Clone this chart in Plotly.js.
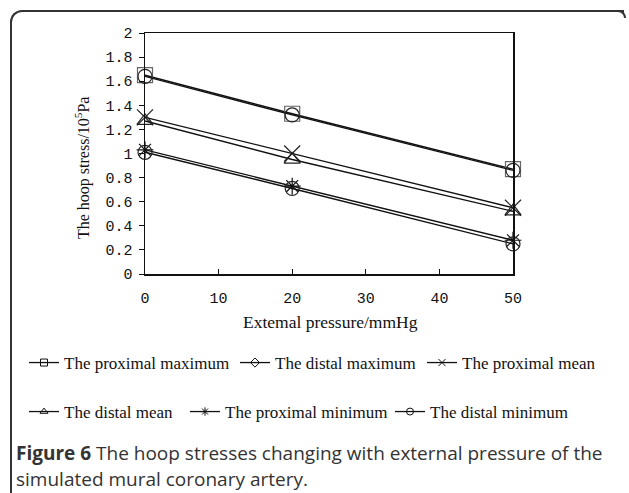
<!DOCTYPE html>
<html>
<head>
<meta charset="utf-8">
<script src="https://cdn.plot.ly/plotly-3.0.1.min.js"></script>
<style>
html,body{margin:0;padding:0;background:#fff;}
#wrap{position:relative;width:629px;height:493px;}
#chart{position:absolute;left:0;top:0;width:629px;height:493px;}
#border{position:absolute;left:10px;top:10px;width:612px;height:490px;border-top:2px solid #333;border-left:2px solid #333;border-top-left-radius:12px;pointer-events:none;}
#corner{position:absolute;left:612px;top:10px;width:12px;height:6px;border-top:2px solid #333;border-right:2px solid #333;border-top-right-radius:8px;pointer-events:none;}
</style>
</head>
<body>
<div id="wrap">
<div id="chart"></div>
<div id="border"></div>
<div id="corner"></div>
</div>
<script>
const pressure = [0, 20, 50];
const proximalMaximum = [1.65, 1.33, 0.87];
const distalMaximum = [1.64, 1.32, 0.86];
const proximalMean = [1.30, 1.00, 0.55];
const distalMean = [1.27, 0.95, 0.52];
const proximalMinimum = [1.03, 0.73, 0.28];
const distalMinimum = [1.01, 0.71, 0.25];
const seriesNames = ["The proximal maximum", "The distal maximum", "The proximal mean",
                     "The distal mean", "The proximal minimum", "The distal minimum"];
const xTicks = [0, 10, 20, 30, 40, 50];
const yTicks = [0, 0.2, 0.4, 0.6, 0.8, 1, 1.2, 1.4, 1.6, 1.8, 2];

const W = 629, H = 493;
const series = [proximalMaximum, distalMaximum, proximalMean, distalMean, proximalMinimum, distalMinimum];
const symbols = ["square-open", "circle-open", "x-thin-open", "triangle-up-open", "asterisk-open", "circle-open"];
const sizes = [15, 14, 16, 14, 14, 14];
const colors = ["#666", "#222", "#222", "#222", "#111", "#222"];
const legendSymbols = ["square-open", "diamond-open", "x-thin-open", "triangle-up-open", "asterisk-open", "circle-open"];
// legend placement in container pixels (left, centre y)
const legendPos = [[24, 363], [235, 363], [422, 363], [24, 412], [185, 412], [390, 412]];

const traces = [];
series.forEach((s, i) => {
  traces.push({
    x: pressure, y: s, type: "scatter", mode: "lines+markers", cliponaxis: false,
    line: {color: "#111", width: 1.4},
    marker: {symbol: symbols[i], size: sizes[i], color: colors[i], line: {width: 1.2, color: colors[i]}},
    showlegend: false, hoverinfo: "skip"
  });
});
series.forEach((s, i) => {
  traces.push({
    x: [null], y: [null], type: "scatter", mode: "lines+markers", name: seriesNames[i],
    line: {color: "#111", width: 1.3},
    marker: {symbol: legendSymbols[i], size: 7, color: "#111", line: {width: 1, color: "#111"}},
    showlegend: true, legend: i === 0 ? "legend" : "legend" + (i + 1)
  });
});

const layout = {
  width: W, height: H,
  margin: {l: 145, r: 116, t: 33, b: 219},
  paper_bgcolor: "rgba(0,0,0,0)", plot_bgcolor: "#fff",
  font: {family: "Liberation Serif", color: "#111"},
  xaxis: {
    range: [0, 50], tickvals: xTicks, ticks: "inside", ticklen: 5, tickcolor: "#111",
    showgrid: false, zeroline: false, showline: true, linecolor: "#111", linewidth: 1.5, mirror: true,
    ticklabelstandoff: 9,
    tickfont: {family: "Liberation Mono", size: 15, color: "#111"}
  },
  yaxis: {
    range: [0, 2], tickvals: yTicks, ticks: "outside", ticklen: 5, tickcolor: "#111",
    showgrid: false, zeroline: false, showline: true, linecolor: "#111", linewidth: 1.5, mirror: true,
    ticklabelstandoff: 3,
    tickfont: {family: "Liberation Mono", size: 15, color: "#111"}
  },
  annotations: [
    {xref: "paper", yref: "paper", x: (82 - 145) / 368, y: (274 - 168) / 241, text: "The hoop stress/10<sup>5</sup>Pa",
     textangle: -90, showarrow: false, xanchor: "center", yanchor: "middle",
     font: {family: "Liberation Serif", size: 16, color: "#111"}},
    {xref: "paper", yref: "paper", x: (330 - 145) / 368, y: (274 - 322) / 241, text: "Extemal pressure/mmHg",
     showarrow: false, xanchor: "center", yanchor: "middle",
     font: {family: "Liberation Serif", size: 17.5, color: "#111"}},
    {xref: "paper", yref: "paper", x: (14 - 145) / 368, y: (274 - 453) / 241,
     text: "<b>Figure 6</b> The hoop stresses changing with external pressure of the",
     showarrow: false, xanchor: "left", yanchor: "middle",
     font: {family: "Open Sans", size: 19, color: "#333"}},
    {xref: "paper", yref: "paper", x: (14 - 145) / 368, y: (274 - 479) / 241,
     text: "simulated mural coronary artery.",
     showarrow: false, xanchor: "left", yanchor: "middle",
     font: {family: "Open Sans", size: 19, color: "#333"}}
  ]
};
legendPos.forEach((p, i) => {
  const key = i === 0 ? "legend" : "legend" + (i + 1);
  layout[key] = {
    xref: "container", yref: "container", x: p[0] / W, y: 1 - p[1] / H,
    xanchor: "left", yanchor: "middle", orientation: "h", itemwidth: 30,
    bgcolor: "rgba(0,0,0,0)", borderwidth: 0,
    font: {family: "Liberation Serif", size: 17, color: "#111"}
  };
});

Plotly.newPlot("chart", traces, layout, {displayModeBar: false, staticPlot: true});
</script>
</body>
</html>
